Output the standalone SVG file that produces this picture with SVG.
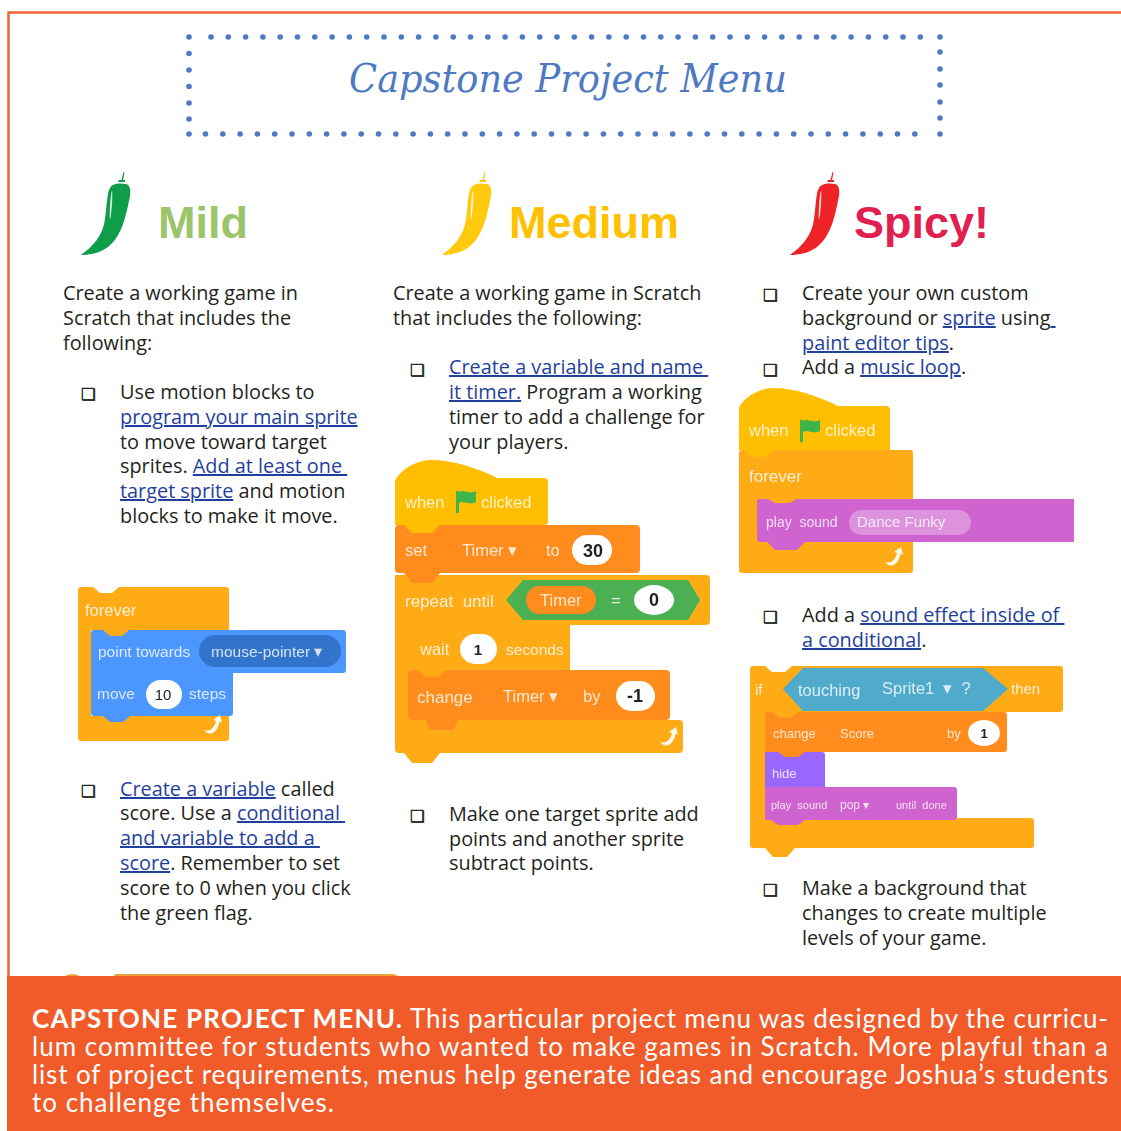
<svg xmlns="http://www.w3.org/2000/svg" width="1121" height="1131" viewBox="0 0 1121 1131">
<style>
text{white-space:pre}
.b{font:19.85px "Open Sans","Noto Sans",sans-serif;fill:#231f20}
.l{fill:#1f3f9e;text-decoration:underline}
.c{font:bold 16.500px "DejaVu Sans",sans-serif;fill:#231f20;stroke:#231f20;stroke-width:.5}
.h{font-family:"Liberation Sans",sans-serif;font-weight:700;font-size:45px}
.f{font-family:Lato,"Open Sans",sans-serif;font-size:26px;fill:#fff}
.s{font-family:"Liberation Sans",sans-serif;font-size:16.500px;fill:#fff;fill-opacity:.8}
.n{font-family:"Liberation Sans",sans-serif;font-size:18px;font-weight:700;fill:#222;text-anchor:middle}
.o{fill:#ffab19}.y{fill:#ffbf00}.r{fill:#ff8c1a}.u{fill:#4c97ff}.p{fill:#cf63cf}.v{fill:#9966ff}.w{fill:#fff}
.dot{fill:#4f79c2}
</style>
<defs>
<filter id="soft" x="-5%" y="-5%" width="110%" height="110%"><feGaussianBlur stdDeviation="0.65"/></filter>
<g id="chili">
<path d="M81 255C92 247 103 236 105 219C107 205 107 192 110 188C113 183 120 183 126 184C130 185 131 190 130 196C126 216 122 236 108 247C100 253 90 255 81 255Z"/>
<path d="M118.500 182V180H121.500L123.500 172L124.500 172.500L123 180H125V182Z"/>
<ellipse cx="111" cy="205" rx="0.900" ry="14" transform="rotate(4 111 205)" fill="#fff" fill-opacity=".85"/>
</g>
<path id="loop" d="M-8 4C-3 6 2 3 4-5L1-6L8-11L10-3L7.500-4.500C6 7-3 11-8 4Z" fill="#fff" fill-opacity=".9"/>
<path id="flag" d="M0 0V22H3V12C8 9 13 15 20 11V0C13 4 8-2 3 1V0Z" fill="#3cb54a"/>
</defs>
<g id="frame">
<path d="M8.500 976V12.500H1121" fill="none" stroke="#f26534" stroke-width="2.500"/>
</g>
<g id="title">
<g class="dot">
<circle cx="189" cy="37" r="2.800"/><circle cx="211" cy="37" r="2.800"/><circle cx="228.300" cy="37" r="2.800"/><circle cx="245.600" cy="37" r="2.800"/><circle cx="262.900" cy="37" r="2.800"/><circle cx="280.200" cy="37" r="2.800"/><circle cx="297.500" cy="37" r="2.800"/><circle cx="314.800" cy="37" r="2.800"/><circle cx="332.100" cy="37" r="2.800"/><circle cx="349.400" cy="37" r="2.800"/><circle cx="366.700" cy="37" r="2.800"/><circle cx="384" cy="37" r="2.800"/><circle cx="401.300" cy="37" r="2.800"/><circle cx="418.600" cy="37" r="2.800"/><circle cx="435.900" cy="37" r="2.800"/><circle cx="453.200" cy="37" r="2.800"/><circle cx="470.500" cy="37" r="2.800"/><circle cx="487.800" cy="37" r="2.800"/><circle cx="505.100" cy="37" r="2.800"/><circle cx="522.400" cy="37" r="2.800"/><circle cx="539.700" cy="37" r="2.800"/><circle cx="557" cy="37" r="2.800"/><circle cx="574.300" cy="37" r="2.800"/><circle cx="591.600" cy="37" r="2.800"/><circle cx="608.900" cy="37" r="2.800"/><circle cx="626.200" cy="37" r="2.800"/><circle cx="643.500" cy="37" r="2.800"/><circle cx="660.800" cy="37" r="2.800"/><circle cx="678.100" cy="37" r="2.800"/><circle cx="695.400" cy="37" r="2.800"/><circle cx="712.700" cy="37" r="2.800"/><circle cx="730" cy="37" r="2.800"/><circle cx="747.300" cy="37" r="2.800"/><circle cx="764.600" cy="37" r="2.800"/><circle cx="781.900" cy="37" r="2.800"/><circle cx="799.200" cy="37" r="2.800"/><circle cx="816.500" cy="37" r="2.800"/><circle cx="833.800" cy="37" r="2.800"/><circle cx="851.100" cy="37" r="2.800"/><circle cx="868.400" cy="37" r="2.800"/><circle cx="885.700" cy="37" r="2.800"/><circle cx="903" cy="37" r="2.800"/><circle cx="920.300" cy="37" r="2.800"/><circle cx="940" cy="37" r="2.800"/>
<circle cx="189" cy="134" r="2.800"/><circle cx="205.500" cy="134" r="2.800"/><circle cx="222.800" cy="134" r="2.800"/><circle cx="240.100" cy="134" r="2.800"/><circle cx="257.400" cy="134" r="2.800"/><circle cx="274.700" cy="134" r="2.800"/><circle cx="292" cy="134" r="2.800"/><circle cx="309.300" cy="134" r="2.800"/><circle cx="326.600" cy="134" r="2.800"/><circle cx="343.900" cy="134" r="2.800"/><circle cx="361.200" cy="134" r="2.800"/><circle cx="378.500" cy="134" r="2.800"/><circle cx="395.800" cy="134" r="2.800"/><circle cx="413.100" cy="134" r="2.800"/><circle cx="430.400" cy="134" r="2.800"/><circle cx="447.700" cy="134" r="2.800"/><circle cx="465" cy="134" r="2.800"/><circle cx="482.300" cy="134" r="2.800"/><circle cx="499.600" cy="134" r="2.800"/><circle cx="516.900" cy="134" r="2.800"/><circle cx="534.200" cy="134" r="2.800"/><circle cx="551.500" cy="134" r="2.800"/><circle cx="568.800" cy="134" r="2.800"/><circle cx="586.100" cy="134" r="2.800"/><circle cx="603.400" cy="134" r="2.800"/><circle cx="620.700" cy="134" r="2.800"/><circle cx="638" cy="134" r="2.800"/><circle cx="655.300" cy="134" r="2.800"/><circle cx="672.600" cy="134" r="2.800"/><circle cx="689.900" cy="134" r="2.800"/><circle cx="707.200" cy="134" r="2.800"/><circle cx="724.500" cy="134" r="2.800"/><circle cx="741.800" cy="134" r="2.800"/><circle cx="759.100" cy="134" r="2.800"/><circle cx="776.400" cy="134" r="2.800"/><circle cx="793.700" cy="134" r="2.800"/><circle cx="811" cy="134" r="2.800"/><circle cx="828.300" cy="134" r="2.800"/><circle cx="845.600" cy="134" r="2.800"/><circle cx="862.900" cy="134" r="2.800"/><circle cx="880.200" cy="134" r="2.800"/><circle cx="897.500" cy="134" r="2.800"/><circle cx="914.800" cy="134" r="2.800"/><circle cx="940" cy="134" r="2.800"/>
<circle cx="189" cy="53.500" r="2.800"/><circle cx="189" cy="70" r="2.800"/><circle cx="189" cy="86.500" r="2.800"/><circle cx="189" cy="103" r="2.800"/><circle cx="189" cy="119" r="2.800"/>
<circle cx="940" cy="52" r="2.800"/><circle cx="940" cy="69" r="2.800"/><circle cx="940" cy="85" r="2.800"/><circle cx="940" cy="102" r="2.800"/><circle cx="940" cy="118" r="2.800"/>
</g>
<text x="349" y="92" textLength="438" lengthAdjust="spacingAndGlyphs" style="font:italic 40px 'DejaVu Serif',serif" fill="#4f79c2">Capstone Project Menu</text>
</g>
<g id="mild-head"><use href="#chili" fill="#0f9d4a"/><text class="h" x="158" y="238" fill="#9bc46b">Mild</text></g>
<g id="medium-head"><use href="#chili" x="361" fill="#ffc90e"/><text class="h" x="509" y="238" fill="#ffc000">Medium</text></g>
<g id="spicy-head"><use href="#chili" x="709" fill="#ee2326"/><text class="h" x="854" y="238" fill="#e0204f">Spicy!</text></g>

<g id="mild-text">
<text class="b" x="63" y="300">Create a working game in</text>
<text class="b" x="63" y="325">Scratch that includes the</text>
<text class="b" x="63" y="350">following:</text>
<text class="c" x="81" y="400">❏</text>
<text class="b" x="120" y="399">Use motion blocks to</text>
<text class="b" x="120" y="424"><tspan class="l">program your main sprite</tspan></text>
<text class="b" x="120" y="449">to move toward target</text>
<text class="b" x="120" y="473">sprites. <tspan class="l">Add at least one </tspan></text>
<text class="b" x="120" y="498"><tspan class="l">target sprite</tspan> and motion</text>
<text class="b" x="120" y="523">blocks to make it move.</text>
<text class="c" x="81" y="797">❏</text>
<text class="b" x="120" y="796"><tspan class="l">Create a variable</tspan> called</text>
<text class="b" x="120" y="820">score. Use a <tspan class="l">conditional </tspan></text>
<text class="b" x="120" y="845"><tspan class="l">and variable to add a </tspan></text>
<text class="b" x="120" y="870"><tspan class="l">score</tspan>. Remember to set</text>
<text class="b" x="120" y="895">score to 0 when you click</text>
<text class="b" x="120" y="920">the green flag.</text>
</g>
<g id="medium-text">
<text class="b" x="393" y="300">Create a working game in Scratch</text>
<text class="b" x="393" y="325">that includes the following:</text>
<text class="c" x="410" y="376">❏</text>
<text class="b" x="449" y="374"><tspan class="l">Create a variable and name </tspan></text>
<text class="b" x="449" y="399"><tspan class="l">it timer.</tspan> Program a working</text>
<text class="b" x="449" y="424">timer to add a challenge for</text>
<text class="b" x="449" y="449">your players.</text>
<text class="c" x="410" y="822">❏</text>
<text class="b" x="449" y="821">Make one target sprite add</text>
<text class="b" x="449" y="846">points and another sprite</text>
<text class="b" x="449" y="870">subtract points.</text>
</g>
<g id="spicy-text">
<text class="c" x="763" y="301">❏</text>
<text class="b" x="802" y="300">Create your own custom</text>
<text class="b" x="802" y="325">background or <tspan class="l">sprite</tspan> using<tspan class="l"> </tspan></text>
<text class="b" x="802" y="350"><tspan class="l">paint editor tips</tspan>.</text>
<text class="c" x="763" y="376">❏</text>
<text class="b" x="802" y="374">Add a <tspan class="l">music loop</tspan>.</text>
<text class="c" x="763" y="623">❏</text>
<text class="b" x="802" y="622">Add a <tspan class="l">sound effect inside of </tspan></text>
<text class="b" x="802" y="647"><tspan class="l">a conditional</tspan>.</text>
<text class="c" x="763" y="896">❏</text>
<text class="b" x="802" y="895">Make a background that</text>
<text class="b" x="802" y="920">changes to create multiple</text>
<text class="b" x="802" y="945">levels of your game.</text>
</g>

<g id="blocks-mild" filter="url(#soft)">
<path class="o" d="M78 590Q78 587 81 587H93L100 593H112L119 587H226Q229 587 229 590V630H91V716H229V738Q229 741 226 741H81Q78 741 78 738Z"/>
<path class="u" d="M91 633Q91 630 94 630H343Q346 630 346 633V670Q346 673 343 673H233V713Q233 716 230 716H130L123 722H110L103 716H94Q91 716 91 713Z"/>
<path class="o" d="M103 630H129L122 636H110Z"/>
<rect x="199" y="635" width="142" height="32" rx="16" fill="#3373cc"/>
<rect x="146" y="680" width="36" height="29" rx="14.500" class="w"/>
<text class="s" x="85" y="616">forever</text>
<text class="s" x="98" y="657" style="font-size:15.500px">point towards</text>
<text class="s" x="211" y="657" style="font-size:15.500px">mouse-pointer ▾</text>
<text class="s" x="97" y="699" style="font-size:15.500px">move</text>
<text class="n" x="163" y="700" style="font-size:15px;font-weight:400">10</text>
<text class="s" x="189" y="699" style="font-size:15.500px">steps</text>
<use href="#loop" x="212" y="726"/>
</g>

<g id="blocks-medium" filter="url(#soft)">
<path class="o" d="M395 575H706Q710 575 710 579V621Q710 625 706 625H570V670H410V720H679Q683 720 683 724V749Q683 753 679 753H440L432 763H412L404 753H399Q395 753 395 749Z"/>
<path class="r" d="M395 529Q395 525 399 525H636Q640 525 640 529V569Q640 573 636 573H440L432 583H412L404 573H399Q395 573 395 569Z"/>
<path class="y" d="M395 480C403 467 418 460 432 460C452 460 478 468 497 478H544Q548 478 548 482V522Q548 525 544 525H440L432 533H412L404 525H395Z"/>
<path class="r" d="M408 674Q408 670 412 670H666Q670 670 670 674V716Q670 720 666 720H458L454 730H430L426 720H412Q408 720 408 716Z"/>
<path class="o" d="M418 670H446L438 677H426Z"/>
<path d="M506 600L523 580H688L700 600L688 620H523Z" fill="#4cb052"/>
<rect x="526" y="586" width="70" height="28" rx="14" class="r"/>
<ellipse cx="654" cy="600" rx="20" ry="15" class="w"/>
<rect x="572" y="535" width="40" height="30" rx="15" class="w"/>
<rect x="460" y="634" width="37" height="30" rx="15" class="w"/>
<rect x="616" y="681" width="39" height="30" rx="15" class="w"/>
<use href="#flag" x="456" y="491"/>
<text class="s" x="405" y="508">when</text><text class="s" x="481" y="508">clicked</text>
<text class="s" x="405" y="556">set</text><text class="s" x="462" y="556">Timer ▾</text><text class="s" x="546" y="556">to</text>
<text class="n" x="593" y="557">30</text>
<text class="s" x="405" y="607" style="font-size:17px">repeat  until</text><text class="s" x="540" y="606">Timer</text><text class="s" x="611" y="606">=</text>
<text class="n" x="654" y="606">0</text>
<text class="s" x="420" y="655">wait</text><text class="n" x="478" y="655" style="font-size:15px">1</text><text class="s" x="506" y="655" style="font-size:15.500px">seconds</text>
<text class="s" x="417" y="703" style="font-size:17px">change</text><text class="s" x="503" y="702">Timer ▾</text><text class="s" x="583" y="702">by</text>
<text class="n" x="635" y="702">-1</text>
<use href="#loop" x="668" y="738"/>
</g>

<g id="blocks-spicy-1" filter="url(#soft)">
<path class="o" d="M739 453Q739 450 742 450H910Q913 450 913 453V570Q913 573 910 573H742Q739 573 739 570Z"/>
<path class="y" d="M739 407C747 395 760 388 774 388C794 388 818 396 838 406H886Q890 406 890 410V450H775L767 457H752L745 450H739Z"/>
<path class="p" d="M757 502Q757 499 760 499H768L775 503H790L797 499H1074V542H805L797 550H775L767 542H760Q757 542 757 539Z"/>
<rect x="849" y="510" width="122" height="25" rx="12.500" fill="#fff" fill-opacity=".3"/>
<use href="#flag" x="800" y="420"/>
<text class="s" x="749" y="436">when</text><text class="s" x="825" y="436">clicked</text>
<text class="s" x="749" y="482" style="font-size:17px">forever</text>
<text class="s" x="766" y="527" style="font-size:14px">play  sound</text>
<text class="s" x="857" y="527" style="font-size:15px">Dance Funky</text>
<use href="#loop" x="893" y="558"/>
</g>

<g id="blocks-spicy-2" filter="url(#soft)">
<path class="o" d="M750 669Q750 666 753 666H765L772 672H785L792 666H1060Q1063 666 1063 669V709Q1063 712 1060 712H765V818H1031Q1034 818 1034 821V845Q1034 848 1031 848H795L787 857H773L765 848H753Q750 848 750 845Z"/>
<path d="M783 689L803 668H983L1008 689L983 711H803Z" fill="#4faacb"/>
<path class="r" d="M765 712H1004Q1007 712 1007 715V749Q1007 752 1004 752H765Z"/>
<path class="o" d="M772 712H798L790 718H780Z"/>
<path class="v" d="M765 752H822Q825 752 825 755V787H765Z"/>
<path class="r" d="M778 752H805L798 757H785Z"/>
<path class="p" d="M765 787H954Q957 787 957 790V817Q957 820 954 820H805L798 825H778L771 820H765Z"/>
<ellipse cx="984" cy="733" rx="16" ry="13" class="w"/>
<text class="s" x="755" y="695" style="font-size:15px">if</text>
<text class="s" x="798" y="696">touching</text>
<text class="s" x="882" y="694">Sprite1  ▾  ?</text>
<text class="s" x="1011" y="694" style="font-size:15px">then</text>
<text class="s" x="773" y="738" style="font-size:13px">change</text>
<text class="s" x="840" y="738" style="font-size:13px">Score</text>
<text class="s" x="947" y="738" style="font-size:13px">by</text>
<text class="n" x="984" y="738" style="font-size:13px">1</text>
<text class="s" x="772" y="778" style="font-size:13px">hide</text>
<text class="s" x="771" y="809" style="font-size:11px">play  sound</text>
<text class="s" x="840" y="809" style="font-size:12px">pop ▾</text>
<text class="s" x="896" y="809" style="font-size:11px">until  done</text>
</g>

<g id="caption">
<path d="M65 976Q72 972 80 976ZM113 976L116 974H394L398 976Z" fill="#e9a33a"/>
<rect x="7" y="976" width="1114" height="155" fill="#f15a29"/>
<text class="f" x="32" y="1028" textLength="370" style="font-weight:700">CAPSTONE PROJECT MENU.</text>
<text class="f" x="410" y="1028" textLength="698">This particular project menu was designed by the curricu-</text>
<text class="f" x="32" y="1056" textLength="1076">lum committee for students who wanted to make games in Scratch. More playful than a</text>
<text class="f" x="32" y="1084" textLength="1076">list of project requirements, menus help generate ideas and encourage Joshua’s students</text>
<text class="f" x="32" y="1112" textLength="302">to challenge themselves.</text>
</g>
</svg>
